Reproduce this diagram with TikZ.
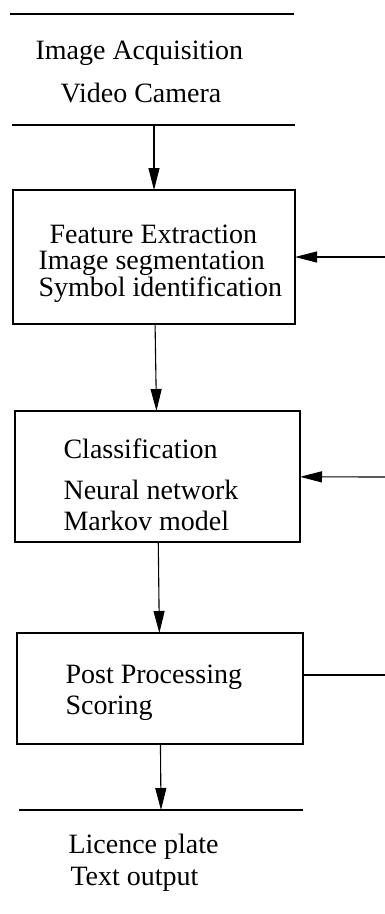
\documentclass[tikz,border=0pt]{standalone}
\usepackage{fontspec}
\setmainfont{Liberation Serif}
\usetikzlibrary{arrows.meta}

\begin{document}
\begin{tikzpicture}[x=1pt,y=-1pt,line width=1.1pt,
        font=\fontsize{28}{30}\selectfont]
    \useasboundingbox (0,0) rectangle (385,914);

    % stage boxes
    \begin{scope} [every node/.style={rectangle,draw,line width=1.2pt,inner sep=0pt,outer sep=0pt}]
        \node[minimum width=282pt,minimum height=134pt] (extract) at (154,257) {};
        \node[minimum width=285pt,minimum height=131pt] (classify) at (157.5,476.5) {};
        \node[minimum width=286pt,minimum height=111pt] (post) at (160,688.5) {};
    \end{scope}

    % texts
    \begin{scope} [every node/.style={anchor=base west,inner sep=0pt}]
        \node (acq) at (35,59) {Image Acquisition};
        \node (cam) at (60,102) {Video Camera};
        \node (feat) at (49,243) {Feature Extraction};
        \node (seg) at (38,269) {Image segmentation};
        \node (sym) at (38,296) {Symbol identification};
        \node (cls) at (63,458) {Classification};
        \node (nn) at (63,499) {Neural network};
        \node (hmm) at (63,530) {Markov model};
        \node (pp) at (65,683) {Post Processing};
        \node (score) at (65,714) {Scoring};
        \node (plate) at (68,853) {Licence plate};
        \node (txt) at (70,885) {Text output};
    \end{scope}

    % rules and free ends
    \coordinate (top1) at (10,14);   \coordinate (top1e) at (294,14);
    \coordinate (top2) at (12,125);  \coordinate (top2e) at (295,125);
    \coordinate (bot) at (19,810);   \coordinate (bote) at (303,810);
    \coordinate (in) at (154,125);
    \coordinate (out) at (161,810);
    \coordinate (fb1) at (385,257);
    \coordinate (fb2) at (385,477);
    \coordinate (fb3) at (385,675);

    \draw (top1) -- (top1e);
    \draw (top2) -- (top2e);
    \draw (bot) -- (bote);

    \begin{scope}[>={Triangle[length=22pt,width=11pt]}]
        \path [->] (in) edge (extract);
        \path [->] (extract) edge (classify);
        \path [->] (classify) edge (post);
        \path [->] (post) edge (out);
        \path [->] (fb1) edge (extract);
        \path [->] (fb2) edge (classify);
        \draw (post.east |- fb3) -- (fb3);
    \end{scope}
\end{tikzpicture}
\end{document}
